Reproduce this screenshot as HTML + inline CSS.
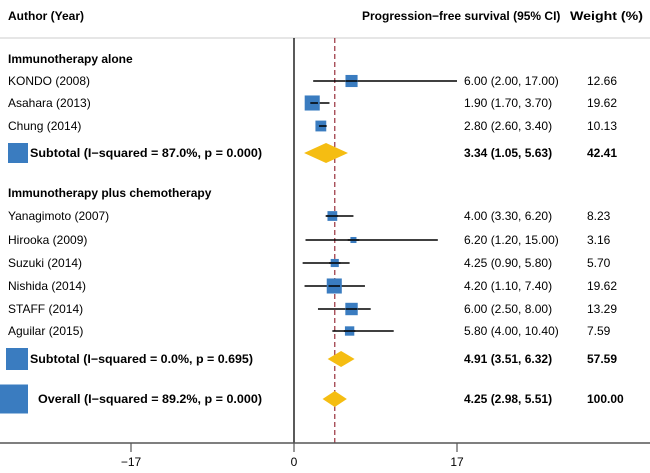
<!DOCTYPE html>
<html><head><meta charset="utf-8"><style>
body{margin:0;background:#fff;}
svg{display:block;font-family:"Liberation Sans",Arial,sans-serif;}
</style></head><body>
<svg id="c" width="650" height="473"></svg>
<script>
const labels=["KONDO (2008)","Asahara (2013)","Chung (2014)","Yanagimoto (2007)","Hirooka (2009)","Suzuki (2014)","Nishida (2014)","STAFF (2014)","Aguilar (2015)"];
const est=[6.00,1.90,2.80,4.00,6.20,4.25,4.20,6.00,5.80];
const lo=[2.00,1.70,2.60,3.30,1.20,0.90,1.10,2.50,4.00];
const hi=[17.00,3.70,3.40,6.20,15.00,5.80,7.40,8.00,10.40];
const wts=[12.66,19.62,10.13,8.23,3.16,5.70,19.62,13.29,7.59];
const rowY=[81,103,126,216,240,263,286,309,331];
const sumLabels=["Subtotal  (I\u2212squared = 87.0%, p = 0.000)","Subtotal  (I\u2212squared = 0.0%, p = 0.695)","Overall  (I\u2212squared = 89.2%, p = 0.000)"];
const sumEst=[3.34,4.91,4.25];
const sumLo=[1.05,3.51,2.98];
const sumHi=[5.63,6.32,5.51];
const sumW=[42.41,57.59,100.00];
const sumY=[153,359,399];
const sumBox=[20,22,29];
const ticks=[-17,0,17];
const overall=4.25;
const x=v=>294+v*(163/17);
const NS="http://www.w3.org/2000/svg";
const svg=document.getElementById('c');
function add(tag,attrs,txt){const e=document.createElementNS(NS,tag);for(const k in attrs)e.setAttribute(k,attrs[k]);if(txt!==undefined)e.textContent=txt;svg.appendChild(e);return e;}
const f=v=>v.toFixed(2);
let e;
e=add('text',{x:8,y:20,'font-size':12,'font-weight':'bold'},'Author (Year)');

e=add('text',{x:362,y:20,'font-size':12,'font-weight':'bold'},'Progression\u2212free survival (95% CI)');

e=add('text',{x:570,y:20,'font-size':12,'font-weight':'bold',textLength:73,lengthAdjust:'spacingAndGlyphs'},'Weight (%)');

e=add('line',{x1:0,y1:38,x2:650,y2:38,stroke:'#ccc','stroke-width':1});

e=add('text',{x:8,y:63,'font-size':12,'font-weight':'bold'},'Immunotherapy alone');

e=add('text',{x:8,y:197,'font-size':12,'font-weight':'bold'},'Immunotherapy plus chemotherapy');

e=add('line',{x1:294,y1:38,x2:294,y2:443,stroke:'#000','stroke-width':1.3});

e=add('line',{x1:x(overall),y1:38,x2:x(overall),y2:443,stroke:'#a0404a','stroke-width':1.3,'stroke-dasharray':'5,3'});

for(let i=0;i<labels.length;i++){
 const y=rowY[i];
 e=add('text',{x:8,y:y+4,'font-size':12},labels[i]);
 
 e=add('line',{x1:x(lo[i]),y1:y,x2:x(hi[i]),y2:y,stroke:'#000','stroke-width':1.5});
 
 const s=3.4*Math.sqrt(wts[i]);
 e=add('rect',{x:x(est[i])-s/2,y:y-s/2,width:s,height:s,fill:'#3a7cc0'});
 
 e=add('line',{x1:x(Math.max(lo[i],est[i]-0.6)),y1:y,x2:x(Math.min(hi[i],est[i]+0.6)),y2:y,stroke:'#000','stroke-width':1.5});
 
 e=add('text',{x:464,y:y+4,'font-size':12},f(est[i])+' ('+f(lo[i])+', '+f(hi[i])+')');
 
 e=add('text',{x:587,y:y+4,'font-size':12},f(wts[i]));
 
}
const sumLen=[232,223,224];
for(let i=0;i<3;i++){
 const y=sumY[i], b=sumBox[i];
 e=add('rect',{x:28-b,y:y-b/2,width:b,height:b,fill:'#3a7cc0'});
 
 e=add('text',{x:i==2?38:30,y:y+4,'font-size':12,'font-weight':'bold',textLength:sumLen[i],lengthAdjust:'spacingAndGlyphs'},sumLabels[i]);
 
 const h=i==0?10:8;
 e=add('polygon',{points:`${x(sumLo[i])},${y} ${x(sumEst[i])},${y-h} ${x(sumHi[i])},${y} ${x(sumEst[i])},${y+h}`,fill:'#f5bd12'});
 
 e=add('text',{x:464,y:y+4,'font-size':12,'font-weight':'bold'},f(sumEst[i])+' ('+f(sumLo[i])+', '+f(sumHi[i])+')');
 
 e=add('text',{x:587,y:y+4,'font-size':12,'font-weight':'bold'},f(sumW[i]));
 
}
e=add('line',{x1:0,y1:443,x2:650,y2:443,stroke:'#555','stroke-width':1.5});

for(const t of ticks){
 e=add('line',{x1:x(t),y1:443,x2:x(t),y2:452,stroke:'#555','stroke-width':1.2});
 
 e=add('text',{x:x(t),y:466,'font-size':12,'text-anchor':'middle'},t<0?'\u2212'+(-t):String(t));
 
}
</script>
</body></html>
